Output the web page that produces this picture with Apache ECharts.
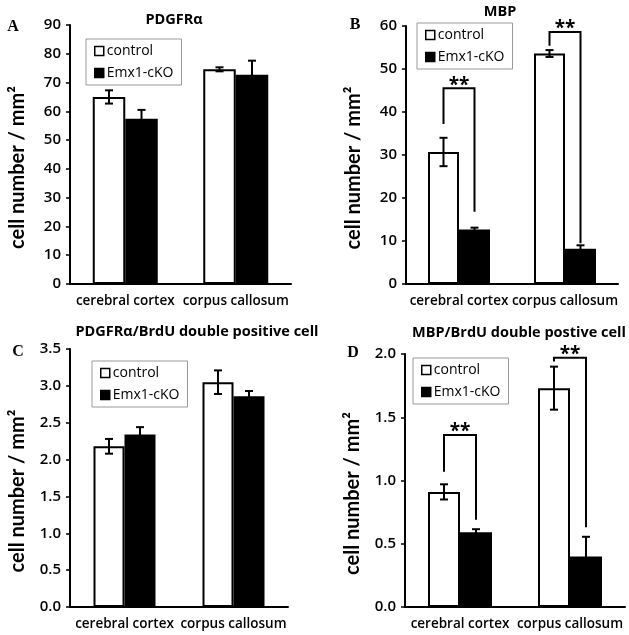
<!DOCTYPE html>
<html><head><meta charset="utf-8">
<script src="https://cdn.jsdelivr.net/npm/echarts@6/dist/echarts.min.js"></script>
<style>html,body{margin:0;padding:0;background:#fff}#c{width:629px;height:635px}</style>
</head><body><div id="c"></div>
<script>
// ---------- DATA ----------
const categories = ['cerebral cortex', 'corpus callosum'];
const seriesNames = ['control', 'Emx1-cKO'];

// Panel A: PDGFRα
const aControl = [65.0, 74.6];
const aControlErr = [2.3, 0.7];
const aCKO = [57.4, 72.7];
const aCKOErr = [3.1, 4.9];

// Panel B: MBP
const bControl = [30.7, 53.6];
const bControlErr = [3.3, 0.8];
const bCKO = [12.7, 8.2];
const bCKOErr = [0.4, 0.8];
const bBracket = [[0, 45.5, 37.2, 16.8], [1, 58.6, 55.4, 9.5]]; // [category, top, left end, right end]

// Panel C: PDGFRα/BrdU
const cControl = [2.18, 3.05];
const cControlErr = [0.10, 0.16];
const cCKO = [2.34, 2.86];
const cCKOErr = [0.10, 0.07];

// Panel D: MBP/BrdU
const dControl = [0.91, 1.73];
const dControlErr = [0.06, 0.17];
const dCKO = [0.59, 0.40];
const dCKOErr = [0.025, 0.155];
const dBracket = [[0, 1.36, 1.07, 0.69], [1, 1.97, 1.94, 0.63]];

// Axis scales
const aAxis = {min: 0, max: 90, interval: 10};
const bAxis = {min: 0, max: 60, interval: 10};
const cAxis = {min: 0, max: 3.5, interval: 0.5};
const dAxis = {min: 0, max: 2.0, interval: 0.5};

const titles = ['PDGFRα', 'MBP', 'PDGFRα/BrdU double positive cell', 'MBP/BrdU double postive cell'];
const letters = ['A', 'B', 'C', 'D'];
const yName = 'cell number / mm²';
const sigMark = '**';

// ---------- LAYOUT ----------
const panels = [
  {grid: {left: 70, top: 25, width: 221, height: 259}, bw: 32.5, axis: aAxis, dec: 0,
   ctrl: aControl, ctrlE: aControlErr, cko: aCKO, ckoE: aCKOErr, br: null,
   legend: {left: 86, top: 39}, title: [174, 20], letter: [13, 27]},
  {grid: {left: 406, top: 26, width: 212, height: 258}, bw: 31, axis: bAxis, dec: 0,
   ctrl: bControl, ctrlE: bControlErr, cko: bCKO, ckoE: bCKOErr, br: bBracket,
   legend: {left: 417, top: 23}, title: [500, 12], letter: [355, 25]},
  {grid: {left: 70, top: 349, width: 218, height: 258}, bw: 31, axis: cAxis, dec: 1,
   ctrl: cControl, ctrlE: cControlErr, cko: cCKO, ckoE: cCKOErr, br: null,
   legend: {left: 92, top: 361}, title: [197, 332], letter: [18, 352]},
  {grid: {left: 405, top: 354, width: 220, height: 253}, bw: 32, axis: dAxis, dec: 1,
   ctrl: dControl, ctrlE: dControlErr, cko: dCKO, ckoE: dCKOErr, br: dBracket,
   legend: {left: 413, top: 358}, title: [519, 333], letter: [353, 353]}
];

const FONT = 'Open Sans';

function errRender(offset) {
  return function (params, api) {
    const i = api.value(0), v = api.value(1), e = api.value(2);
    const hi = api.coord([i, v + e]), lo = api.coord([i, v - e]);
    const x = hi[0] + offset;
    const st = {stroke: '#000', lineWidth: 2};
    return {type: 'group', children: [
      {type: 'line', shape: {x1: x, y1: hi[1], x2: x, y2: lo[1]}, style: st},
      {type: 'line', shape: {x1: x - 4, y1: hi[1], x2: x + 4, y2: hi[1]}, style: st},
      {type: 'line', shape: {x1: x - 4, y1: lo[1], x2: x + 4, y2: lo[1]}, style: st}
    ]};
  };
}
function bracketRender(offset) {
  return function (params, api) {
    const i = api.value(0);
    const t = api.coord([i, api.value(1)]);
    const l = api.coord([i, api.value(2)]);
    const r = api.coord([i, api.value(3)]);
    const xl = t[0] - offset, xr = t[0] + offset;
    return {type: 'group', children: [
      {type: 'polyline', shape: {points: [[xl, l[1]], [xl, t[1]], [xr, t[1]], [xr, r[1]]]},
       style: {stroke: '#000', lineWidth: 2, fill: null}},
      {type: 'text', style: {text: sigMark, x: t[0], y: t[1] - 3, align: 'center', verticalAlign: 'middle',
        font: 'bold 19px "' + FONT + '"', fill: '#000'}}
    ]};
  };
}

const option = {
  animation: false,
  backgroundColor: '#fff',
  grid: [], xAxis: [], yAxis: [], series: [], legend: [], graphic: []
};

panels.forEach((p, k) => {
  option.grid.push(Object.assign({containLabel: false, outerBoundsMode: 'none'}, p.grid));
  option.xAxis.push({
    type: 'category', gridIndex: k, data: categories,
    axisLine: {lineStyle: {color: '#000', width: 2}},
    axisTick: {show: false},
    axisLabel: {color: '#000', fontFamily: FONT, fontWeight: 600, fontSize: 13.5, margin: 10, interval: 0}
  });
  option.yAxis.push({
    type: 'value', gridIndex: k, min: p.axis.min, max: p.axis.max, interval: p.axis.interval,
    name: yName, nameLocation: 'middle', nameRotate: 90, nameGap: 42,
    nameTextStyle: {color: '#000', fontFamily: 'Lato', fontWeight: 'bold', fontSize: 20, padding: [0, 26, 0, 0]},
    axisLine: {show: true, lineStyle: {color: '#000', width: 2}},
    axisTick: {show: true, length: 4, lineStyle: {color: '#000', width: 1.5}},
    splitLine: {show: false},
    axisLabel: {color: '#000', fontFamily: FONT, fontWeight: 600, fontSize: 15, margin: 9,
      formatter: v => v.toFixed(p.dec)}
  });
  option.series.push({
    name: seriesNames[0], type: 'bar', xAxisIndex: k, yAxisIndex: k, data: p.ctrl,
    barWidth: p.bw, barGap: '0%',
    itemStyle: {color: '#fff', borderColor: '#000', borderWidth: 2}
  });
  option.series.push({
    name: seriesNames[1], type: 'bar', xAxisIndex: k, yAxisIndex: k, data: p.cko,
    barWidth: p.bw, barGap: '0%',
    itemStyle: {color: '#000', borderColor: '#000', borderWidth: 2}
  });
  option.series.push({
    type: 'custom', xAxisIndex: k, yAxisIndex: k, z: 5,
    data: p.ctrl.map((v, i) => [i, v, p.ctrlE[i]]), encode: {x: 0, y: 1},
    renderItem: errRender(-p.bw / 2), silent: true
  });
  option.series.push({
    type: 'custom', xAxisIndex: k, yAxisIndex: k, z: 5,
    data: p.cko.map((v, i) => [i, v, p.ckoE[i]]), encode: {x: 0, y: 1},
    renderItem: errRender(p.bw / 2), silent: true
  });
  if (p.br) {
    option.series.push({
      type: 'custom', xAxisIndex: k, yAxisIndex: k, z: 6,
      data: p.br, encode: {x: 0, y: 1},
      renderItem: bracketRender(p.bw / 2), silent: true
    });
  }
  option.legend.push({
    data: seriesNames, orient: 'vertical', left: p.legend.left, top: p.legend.top,
    itemWidth: 9, itemHeight: 9, itemGap: 6, padding: [4, 8],
    borderColor: '#999', borderWidth: 1, backgroundColor: '#fff',
    icon: 'rect', selectedMode: false,
    itemStyle: {borderWidth: 1.5},
    textStyle: {color: '#000', fontFamily: FONT, fontSize: 14, lineHeight: 16, padding: [0, 0, 0, -2]}
  });
  option.graphic.push({
    type: 'text', x: p.title[0], y: p.title[1], silent: true,
    style: {text: titles[k], align: 'center', verticalAlign: 'middle',
      font: 'bold 14.5px "' + FONT + '"', fill: '#000'}
  });
  option.graphic.push({
    type: 'text', x: p.letter[0], y: p.letter[1], silent: true,
    style: {text: letters[k], align: 'center', verticalAlign: 'middle',
      font: 'bold 16px "Liberation Serif"', fill: '#000'}
  });
});

const chart = echarts.init(document.getElementById('c'), null, {renderer: 'canvas'});
chart.setOption(option);
</script>
</body></html>
